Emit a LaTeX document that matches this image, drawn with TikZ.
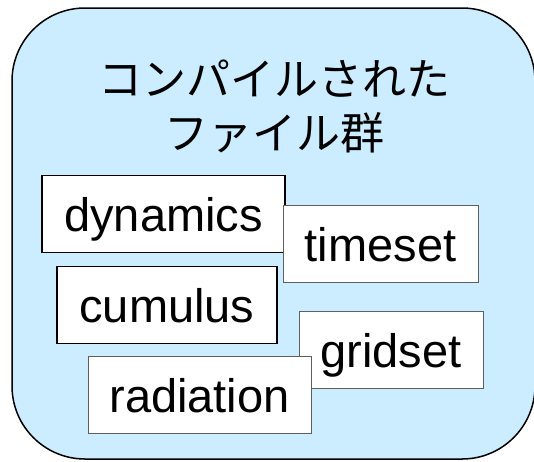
\documentclass[tikz,border=0pt]{standalone}
\usepackage{fontspec}
\setmainfont{Liberation Sans}
\newfontfamily\jpfont{Noto Sans CJK JP}
\definecolor{paleblue}{HTML}{CCECFF}
\definecolor{framegray}{HTML}{5F5F5F}

\begin{document}
\begin{tikzpicture}[x=1pt, y=-1pt,
		filebox/.style = {draw, fill=white, inner sep=0pt,
			text height=56pt, text depth=21pt,
			font=\fontsize{47}{56}\selectfont
		},]
		\useasboundingbox (0,0) rectangle (534,461);
		\filldraw[fill=paleblue, line width=1.5pt, rounded corners=73pt] (12,8) rectangle (535,459);
		\node[font=\jpfont\fontsize{44}{54}\selectfont, align=center, anchor=base] (title) at (274,149) {コンパイルされた\\ファイル群};
		% later boxes lie on top of the earlier ones
		\foreach \name/\cx/\cy/\w/\col/\lw in {
			dynamics/163.5/214/243/black/1.2pt,
			timeset/380.5/243.5/195/framegray/0.9pt,
			cumulus/167/305/220/black/1.2pt,
			gridset/391/349.5/184/framegray/0.9pt,
			radiation/199.5/395/223/framegray/0.9pt}
		{
			\node[filebox, draw=\col, line width=\lw, minimum width=\w pt] (\name) at (\cx,\cy) {\name};
		};
	\end{tikzpicture}
\end{document}
